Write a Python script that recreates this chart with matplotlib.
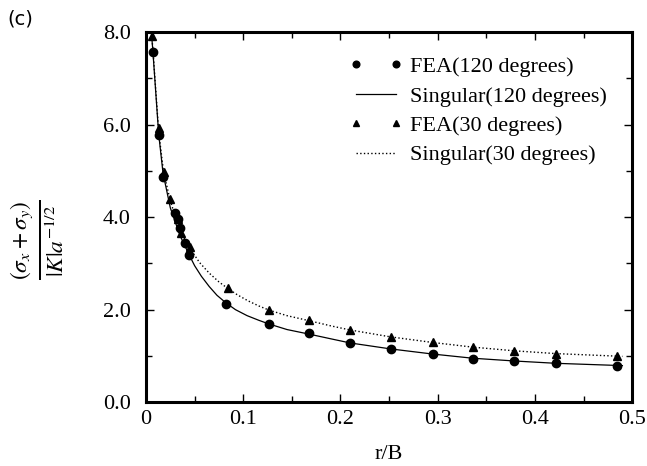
import matplotlib
matplotlib.use("Agg")
import matplotlib.pyplot as plt
from matplotlib.ticker import MultipleLocator, FixedFormatter, FixedLocator

matplotlib.rcParams.update({
    "font.family": "Liberation Serif",
    "mathtext.fontset": "stix",
    "font.size": 16,
})

# ── Data ────────────────────────────────────────────────────────────────
fea120_x = [0.007, 0.013, 0.0175, 0.030, 0.033, 0.035, 0.040, 0.044,
            0.082, 0.1265, 0.168, 0.21, 0.252, 0.295, 0.336, 0.379, 0.4216, 0.484]
fea120_y = [7.57, 5.77, 4.87, 4.09, 3.97, 3.76, 3.45, 3.18,
            2.13, 1.68, 1.485, 1.276, 1.146, 1.04, 0.94, 0.886, 0.836, 0.785]

fea30_x = [0.006, 0.013, 0.018, 0.025, 0.033, 0.0357, 0.045,
           0.084, 0.1265, 0.168, 0.21, 0.252, 0.295, 0.336, 0.379, 0.4216, 0.484]
fea30_y = [7.92, 5.92, 4.98, 4.40, 3.97, 3.65, 3.36,
           2.47, 1.99, 1.77, 1.55, 1.40, 1.29, 1.196, 1.11, 1.05, 0.995]

sing120_x = [0.0055, 0.007, 0.013, 0.0175, 0.025, 0.035, 0.044, 0.050, 0.057,
             0.065, 0.073, 0.082, 0.092, 0.104, 0.116, 0.1265, 0.145, 0.168,
             0.19, 0.21, 0.252, 0.295, 0.336, 0.379, 0.4216, 0.49]
sing120_y = [8.0, 7.6, 5.8, 4.95, 4.2, 3.6, 3.2, 2.95, 2.72,
             2.5, 2.31, 2.15, 2.0, 1.87, 1.77, 1.69, 1.57, 1.47,
             1.37, 1.28, 1.15, 1.04, 0.95, 0.89, 0.84, 0.79]

sing30_x = [0.0055, 0.007, 0.013, 0.018, 0.025, 0.035, 0.045, 0.055, 0.065,
            0.075, 0.084, 0.094, 0.105, 0.116, 0.1265, 0.145, 0.168, 0.19,
            0.21, 0.252, 0.295, 0.336, 0.379, 0.4216, 0.49]
sing30_y = [8.0, 7.65, 5.85, 4.98, 4.35, 3.7, 3.33, 3.02, 2.79,
            2.6, 2.46, 2.32, 2.19, 2.08, 1.99, 1.87, 1.76, 1.65,
            1.56, 1.41, 1.29, 1.19, 1.11, 1.05, 0.99]

x_ticks = [0, 0.1, 0.2, 0.3, 0.4, 0.5]
x_tick_labels = ["0", "0.1", "0.2", "0.3", "0.4", "0.5"]
y_ticks = [0, 2, 4, 6, 8]
y_tick_labels = ["0.0", "2.0", "4.0", "6.0", "8.0"]

fig = plt.figure(figsize=(6.47, 4.66), dpi=100)
ax = fig.add_axes([0.2257, 0.137, 0.7513, 0.794])

ax.plot(fea120_x, fea120_y, "o", color="black", markersize=6,
        label="FEA(120 degrees)")
ax.plot(sing120_x, sing120_y, "-", color="black", linewidth=0.9,
        label="Singular(120 degrees)")
ax.plot(fea30_x, fea30_y, "^", color="black", markersize=6,
        label="FEA(30 degrees)")
ax.plot(sing30_x, sing30_y, ":", color="black", linewidth=1.0,
        label="Singular(30 degrees)")

ax.set_xlim(0, 0.5)
ax.set_ylim(0, 8)
ax.xaxis.set_major_locator(FixedLocator(x_ticks))
ax.xaxis.set_major_formatter(FixedFormatter(x_tick_labels))
ax.yaxis.set_major_locator(FixedLocator(y_ticks))
ax.yaxis.set_major_formatter(FixedFormatter(y_tick_labels))
ax.xaxis.set_minor_locator(MultipleLocator(0.05))
ax.yaxis.set_minor_locator(MultipleLocator(1.0))
ax.tick_params(which="both", direction="in", top=True, right=True,
               labelsize=16, width=1.0)
ax.tick_params(which="major", length=6)
ax.tick_params(which="minor", length=4)
ax.tick_params(axis="x", which="major", pad=6)
ax.tick_params(axis="y", which="major", pad=11)
for s in ax.spines.values():
    s.set_linewidth(2.2)

ax.set_xlabel("r/B", fontsize=16, labelpad=11)

# y label placed in figure coords to sit where the reference has it
fig.text(0.058, 0.485, r"$\frac{\left(\sigma_x+\sigma_y\right)}{|K|a^{-1/2}}$",
         fontsize=24, rotation=90, ha="center", va="center")

leg = ax.legend(loc="upper right", frameon=False, numpoints=2,
                handlelength=2.4, handletextpad=0.3, labelspacing=0.4,
                fontsize=16, bbox_to_anchor=(0.975, 0.97), markerscale=0.8,
                borderaxespad=0.2)

fig.text(0.012, 0.948, "(c)", fontsize=14, family="DejaVu Sans")

fig.savefig("out.png", dpi=100)
